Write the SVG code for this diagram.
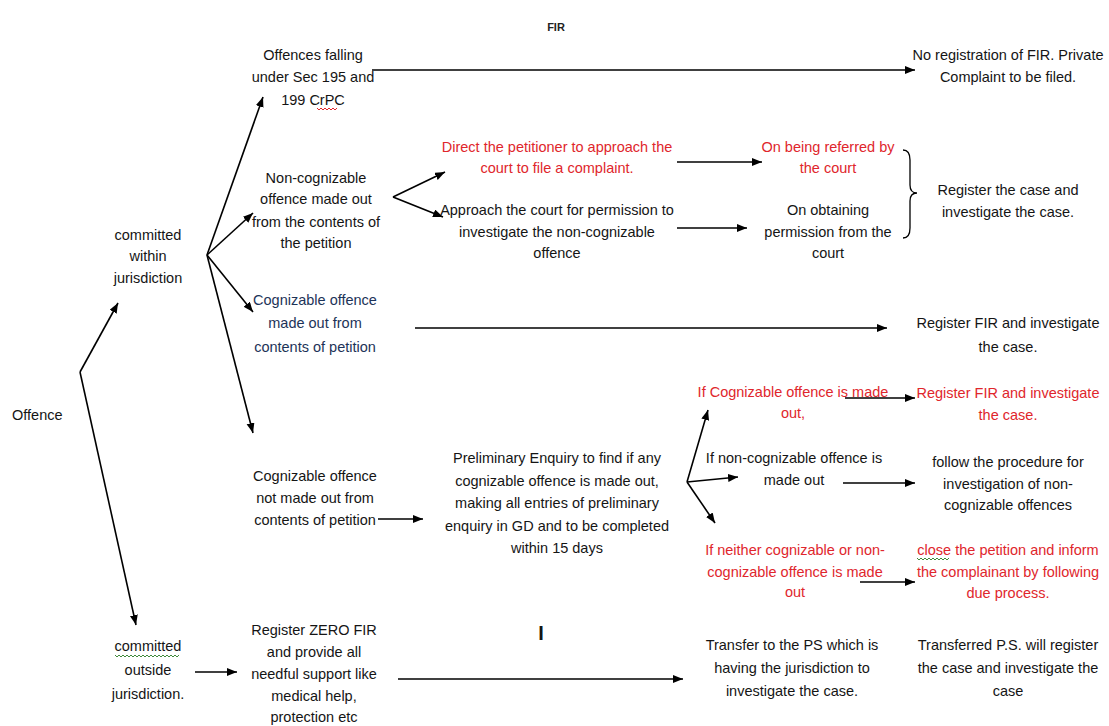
<svg xmlns="http://www.w3.org/2000/svg" width="1109" height="726" viewBox="0 0 1109 726">
  <defs>
    <marker id="ah" markerUnits="userSpaceOnUse" markerWidth="11" markerHeight="9" refX="10" refY="4" orient="auto">
      <path d="M0,0 L10,4 L0,8 z" fill="#000"/>
    </marker>
    <style>
      .t { font-family: "Liberation Sans", Arial, sans-serif; font-size: 14.5px; fill: #151515; text-anchor: middle; }
      .l { text-anchor: start; }
      .r { fill: #e0262c; }
      .nv { fill: #1d3358; }
      .ttl { font-family: "Liberation Sans", Arial, sans-serif; font-size: 11px; font-weight: bold; fill: #222; text-anchor: middle; }
      .c { stroke: #000; stroke-width: 1.6; fill: none; marker-end: url(#ah); }
      .br { stroke: #000; stroke-width: 1.3; fill: none; }
      .wr { stroke: #e0262c; stroke-width: 1; fill: none; }
      .wg { stroke: #3f8a3a; stroke-width: 1; fill: none; }
    </style>
  </defs>
  <rect width="1109" height="726" fill="#fff"/>

  <!-- connectors -->
  <g id="connectors">
    <line class="c" x1="80" y1="372" x2="118" y2="303"/>
    <line class="c" x1="80" y1="372" x2="136" y2="625"/>
    <line class="c" x1="207" y1="255" x2="263" y2="97"/>
    <line class="c" x1="207" y1="255" x2="253" y2="213"/>
    <line class="c" x1="207" y1="255" x2="253" y2="312"/>
    <line class="c" x1="207" y1="255" x2="253" y2="433"/>
    <line class="c" x1="372" y1="70" x2="915" y2="70"/>
    <line class="c" x1="393" y1="197" x2="445" y2="172"/>
    <line class="c" x1="393" y1="197" x2="443" y2="217"/>
    <line class="c" x1="677" y1="162" x2="762" y2="162"/>
    <line class="c" x1="677" y1="228" x2="747" y2="228"/>
    <path class="br" d="M903,150 Q910,150 910,160 L910,185 Q910,193 917,193 Q910,193 910,201 L910,228 Q910,238 903,238"/>
    <line class="c" x1="415" y1="328" x2="887" y2="328"/>
    <line class="c" x1="378" y1="519" x2="423" y2="519"/>
    <line class="c" x1="687" y1="482" x2="708" y2="410"/>
    <line class="c" x1="687" y1="482" x2="738" y2="477"/>
    <line class="c" x1="687" y1="482" x2="715" y2="523"/>
    <line class="c" x1="845" y1="398" x2="915" y2="398"/>
    <line class="c" x1="843" y1="483" x2="915" y2="483"/>
    <line class="c" x1="860" y1="582" x2="915" y2="582"/>
    <line class="c" x1="195" y1="672" x2="237" y2="672"/>
    <line class="c" x1="398" y1="679" x2="683" y2="679"/>
  </g>

  <g id="title"><text class="ttl" x="556" y="31">FIR</text></g>

  <g id="offence"><text class="t l" x="12" y="420">Offence</text></g>

  <g id="within">
    <text class="t" x="148" y="240">committed</text>
    <text class="t" x="148" y="261">within</text>
    <text class="t" x="148" y="283">jurisdiction</text>
  </g>

  <g id="outside">
    <text class="t" x="148" y="651">committed</text>
    <path class="wg" d="M115,655 l2,2 l2,-2 l2,2 l2,-2 l2,2 l2,-2 l2,2 l2,-2 l2,2 l2,-2 l2,2 l2,-2 l2,2 l2,-2 l2,2 l2,-2 l2,2 l2,-2 l2,2 l2,-2 l2,2 l2,-2 l2,2 l2,-2 l2,2 l2,-2 l2,2 l2,-2 l2,2 l2,-2 l2,2 l2,-2"/>
    <text class="t" x="148" y="675">outside</text>
    <text class="t" x="148" y="699">jurisdiction.</text>
  </g>

  <g id="sec195">
    <text class="t" x="313" y="60">Offences falling</text>
    <text class="t" x="313" y="82">under Sec 195 and</text>
    <text class="t" x="313" y="105">199 CrPC</text>
    <path class="wr" d="M317,108 l2,2 l2,-2 l2,2 l2,-2 l2,2 l2,-2 l2,2 l2,-2 l2,2 l2,-2"/>
  </g>

  <g id="noreg">
    <text class="t" x="1008" y="60">No registration of FIR. Private</text>
    <text class="t" x="1008" y="82">Complaint to be filed.</text>
  </g>

  <g id="noncog">
    <text class="t" x="316" y="183">Non-cognizable</text>
    <text class="t" x="316" y="204">offence made out</text>
    <text class="t" x="316" y="227">from the contents of</text>
    <text class="t" x="316" y="248">the petition</text>
  </g>

  <g id="direct">
    <text class="t r" x="557" y="152">Direct the petitioner to approach the</text>
    <text class="t r" x="557" y="173">court to file a complaint.</text>
  </g>

  <g id="approach">
    <text class="t" x="557" y="215">Approach the court for permission to</text>
    <text class="t" x="557" y="237">investigate the non-cognizable</text>
    <text class="t" x="557" y="258">offence</text>
  </g>

  <g id="referred">
    <text class="t r" x="828" y="152">On being referred by</text>
    <text class="t r" x="828" y="173">the court</text>
  </g>

  <g id="obtaining">
    <text class="t" x="828" y="215">On obtaining</text>
    <text class="t" x="828" y="237">permission from the</text>
    <text class="t" x="828" y="258">court</text>
  </g>

  <g id="regcase">
    <text class="t" x="1008" y="195">Register the case and</text>
    <text class="t" x="1008" y="217">investigate the case.</text>
  </g>

  <g id="cog">
    <text class="t nv" x="315" y="305">Cognizable offence</text>
    <text class="t nv" x="315" y="328">made out from</text>
    <text class="t nv" x="315" y="352">contents of petition</text>
  </g>

  <g id="regfir">
    <text class="t" x="1008" y="328">Register FIR and investigate</text>
    <text class="t" x="1008" y="352">the case.</text>
  </g>

  <g id="notcog">
    <text class="t" x="315" y="481">Cognizable offence</text>
    <text class="t" x="315" y="503">not made out from</text>
    <text class="t" x="315" y="525">contents of petition</text>
  </g>

  <g id="prelim">
    <text class="t" x="557" y="463">Preliminary Enquiry to find if any</text>
    <text class="t" x="557" y="486">cognizable offence is made out,</text>
    <text class="t" x="557" y="508">making all entries of preliminary</text>
    <text class="t" x="557" y="531">enquiry in GD and to be completed</text>
    <text class="t" x="557" y="553">within 15 days</text>
  </g>

  <g id="ifcog">
    <text class="t r" x="793" y="397">If Cognizable offence is made</text>
    <text class="t r" x="793" y="418">out,</text>
  </g>

  <g id="regfir2">
    <text class="t r" x="1008" y="398">Register FIR and investigate</text>
    <text class="t r" x="1008" y="420">the case.</text>
  </g>

  <g id="ifnoncog">
    <text class="t" x="794" y="463">If non-cognizable offence is</text>
    <text class="t" x="794" y="485">made out</text>
  </g>

  <g id="follow">
    <text class="t" x="1008" y="467">follow the procedure for</text>
    <text class="t" x="1008" y="489">investigation of non-</text>
    <text class="t" x="1008" y="510">cognizable offences</text>
  </g>

  <g id="ifneither">
    <text class="t r" x="795" y="555">If neither cognizable or non-</text>
    <text class="t r" x="795" y="577">cognizable offence is made</text>
    <text class="t r" x="795" y="597">out</text>
  </g>

  <g id="close">
    <text class="t r" x="1008" y="555">close the petition and inform</text>
    <path class="wg" d="M917,558 l2,2 l2,-2 l2,2 l2,-2 l2,2 l2,-2 l2,2 l2,-2 l2,2 l2,-2 l2,2 l2,-2 l2,2 l2,-2 l2,2 l2,-2"/>
    <text class="t r" x="1008" y="577">the complainant by following</text>
    <text class="t r" x="1008" y="598">due process.</text>
  </g>

  <g id="zero">
    <text class="t" x="314" y="635">Register ZERO FIR</text>
    <text class="t" x="314" y="657">and provide all</text>
    <text class="t" x="314" y="679">needful support like</text>
    <text class="t" x="314" y="701">medical help,</text>
    <text class="t" x="314" y="722">protection etc</text>
  </g>

  <g id="cursor"><text class="t" x="541" y="640" style="font-size:20px;font-weight:bold">I</text></g>

  <g id="transfer">
    <text class="t" x="792" y="650">Transfer to the PS which is</text>
    <text class="t" x="792" y="673">having the jurisdiction to</text>
    <text class="t" x="792" y="696">investigate the case.</text>
  </g>

  <g id="transferred">
    <text class="t" x="1008" y="650">Transferred P.S. will register</text>
    <text class="t" x="1008" y="673">the case and investigate the</text>
    <text class="t" x="1008" y="696">case</text>
  </g>
</svg>
